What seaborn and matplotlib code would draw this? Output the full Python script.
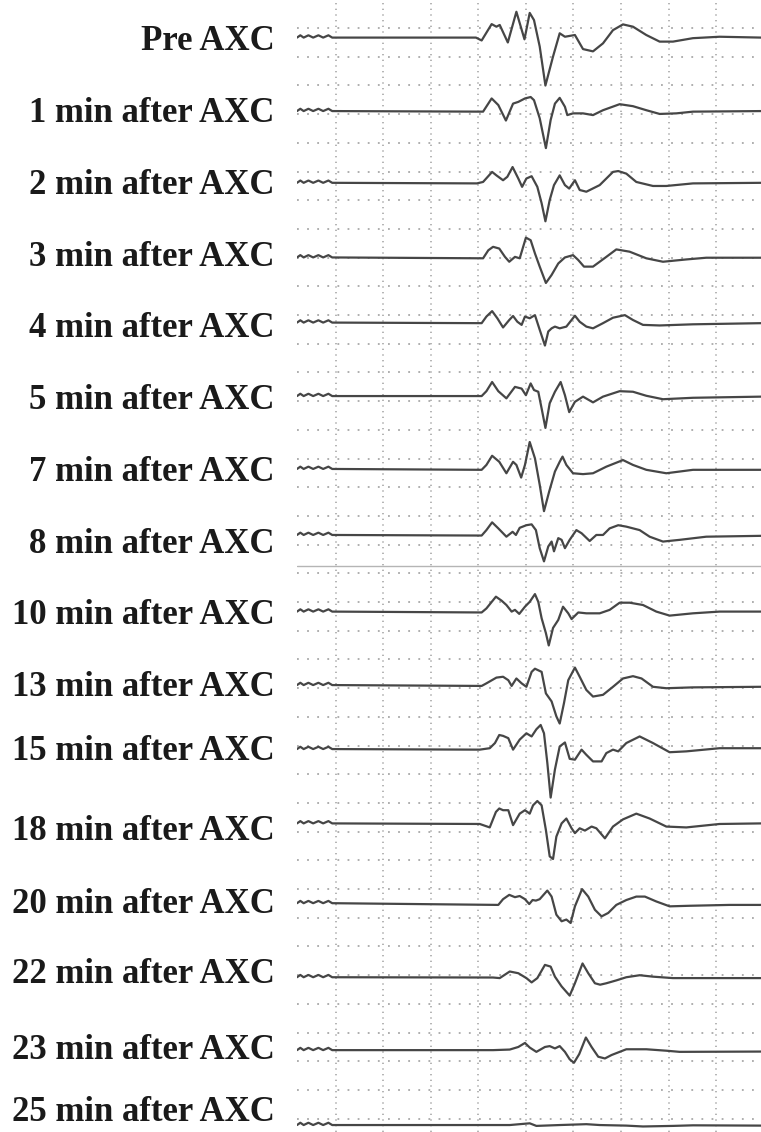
import matplotlib
matplotlib.use("Agg")
import matplotlib.pyplot as plt
import seaborn as sns
import pandas as pd

# trace labels, top to bottom
labels = ["Pre AXC", "1 min after AXC", "2 min after AXC", "3 min after AXC",
          "4 min after AXC", "5 min after AXC", "7 min after AXC", "8 min after AXC",
          "10 min after AXC", "13 min after AXC", "15 min after AXC", "18 min after AXC",
          "20 min after AXC", "22 min after AXC", "23 min after AXC", "25 min after AXC"]

# calibration ripple at the start of every strip (time in grid divisions, amplitude in divisions)
calib_t = [0.19, 0.26, 0.33, 0.43, 0.53, 0.64, 0.74, 0.85, 0.93]
calib_v = [0.0, 0.08, 0.0, 0.08, 0.0, 0.08, 0.0, 0.08, 0.0]

t_pre = [3.95, 4.07, 4.28, 4.38, 4.45, 4.62, 4.80, 4.97, 5.08, 5.17, 5.29, 5.41, 5.57, 5.71, 5.82, 6.03,
         6.20, 6.41, 6.62, 6.83, 7.04, 7.25, 7.53, 7.81, 8.09, 8.51, 9.07, 9.95]
v_pre = [0.0, -0.10, 0.47, 0.38, 0.44, -0.17, 0.90, -0.06, 0.86, 0.61, -0.31, -1.67, -0.66, 0.15, 0.03, 0.09,
         -0.40, -0.48, -0.20, 0.26, 0.46, 0.38, 0.09, -0.14, -0.14, -0.02, 0.03, 0.0]

t_01 = [4.10, 4.28, 4.42, 4.58, 4.73, 4.84, 4.98, 5.10, 5.17, 5.29, 5.42, 5.52, 5.61, 5.71, 5.82, 5.87,
        5.99, 6.20, 6.41, 6.62, 6.97, 7.25, 7.53, 7.81, 8.16, 8.51, 9.95]
v_01 = [-0.02, 0.44, 0.21, -0.33, 0.26, 0.32, 0.44, 0.49, 0.38, -0.25, -1.29, -0.31, 0.26, 0.46, 0.15, -0.14,
        -0.08, -0.08, -0.14, 0.03, 0.24, 0.17, 0.03, -0.10, -0.08, -0.02, 0.0]

t_02 = [3.97, 4.10, 4.29, 4.38, 4.52, 4.61, 4.72, 4.84, 4.92, 5.01, 5.12, 5.24, 5.33, 5.41, 5.50, 5.59,
        5.71, 5.82, 5.91, 6.03, 6.13, 6.27, 6.55, 6.83, 6.94, 7.11, 7.32, 7.67, 7.95, 8.51, 9.95]
v_02 = [-0.02, 0.03, 0.38, 0.26, 0.09, 0.21, 0.55, 0.15, -0.14, 0.15, 0.23, -0.14, -0.71, -1.34, -0.60, -0.08,
        0.26, -0.08, -0.20, 0.09, -0.25, -0.31, -0.08, 0.38, 0.41, 0.32, 0.03, -0.11, -0.11, -0.02, 0.0]

t_03 = [4.10, 4.21, 4.31, 4.44, 4.56, 4.65, 4.77, 4.87, 5.00, 5.10, 5.19, 5.29, 5.42, 5.54, 5.68, 5.82,
        5.99, 6.10, 6.22, 6.41, 6.69, 6.90, 7.18, 7.53, 7.88, 8.37, 8.79, 9.95]
v_03 = [-0.03, 0.25, 0.37, 0.31, 0.02, -0.15, 0.02, -0.03, 0.69, 0.60, 0.14, -0.32, -0.89, -0.61, -0.21, 0.0,
        0.08, -0.09, -0.32, -0.32, 0.02, 0.28, 0.20, -0.03, -0.15, -0.07, -0.01, -0.01]

t_04 = [4.07, 4.17, 4.29, 4.40, 4.52, 4.65, 4.73, 4.82, 4.91, 4.98, 5.08, 5.19, 5.29, 5.40, 5.47, 5.54,
        5.61, 5.71, 5.85, 6.03, 6.13, 6.27, 6.41, 6.62, 6.83, 7.08, 7.25, 7.46, 7.81, 8.51, 9.95]
v_04 = [-0.02, 0.21, 0.40, 0.15, -0.17, 0.09, 0.23, 0.03, -0.08, 0.21, 0.15, 0.26, -0.25, -0.80, -0.31, -0.20,
        -0.14, -0.20, -0.14, 0.24, 0.03, -0.14, -0.20, -0.02, 0.17, 0.26, 0.09, -0.08, -0.10, -0.06, -0.02]

t_05 = [4.07, 4.17, 4.29, 4.42, 4.59, 4.77, 4.91, 5.00, 5.10, 5.17, 5.26, 5.33, 5.41, 5.50, 5.61, 5.73,
        5.82, 5.91, 6.03, 6.20, 6.41, 6.62, 6.97, 7.25, 7.53, 7.88, 8.51, 9.95]
v_05 = [0.0, 0.17, 0.49, 0.17, -0.08, 0.32, 0.26, 0.03, 0.44, 0.21, 0.15, -0.43, -1.11, -0.25, 0.15, 0.49,
        0.03, -0.56, -0.20, -0.02, -0.22, -0.02, 0.17, 0.15, 0.01, -0.11, -0.06, -0.02]

t_07 = [4.07, 4.17, 4.29, 4.44, 4.59, 4.73, 4.80, 4.90, 4.98, 5.08, 5.19, 5.29, 5.38, 5.49, 5.61, 5.71,
        5.77, 5.85, 5.99, 6.20, 6.41, 6.69, 7.04, 7.25, 7.53, 7.95, 8.51, 9.95]
v_07 = [-0.03, 0.14, 0.46, 0.25, -0.15, 0.25, 0.14, -0.30, 0.14, 0.94, 0.37, -0.55, -1.47, -0.78, -0.09, 0.25,
        0.43, 0.14, -0.15, -0.18, -0.15, 0.08, 0.31, 0.14, -0.03, -0.15, -0.03, -0.03]

t_08 = [4.07, 4.17, 4.29, 4.42, 4.59, 4.72, 4.79, 4.87, 5.01, 5.12, 5.21, 5.29, 5.38, 5.47, 5.54, 5.59,
        5.68, 5.75, 5.82, 5.92, 6.06, 6.17, 6.34, 6.48, 6.62, 6.76, 6.94, 7.11, 7.39, 7.60, 7.88, 8.23,
        8.79, 9.95]
v_08 = [-0.02, 0.17, 0.44, 0.23, -0.06, 0.11, 0.0, 0.25, 0.34, 0.37, 0.17, -0.46, -0.92, -0.40, -0.23, -0.57,
        -0.11, -0.17, -0.46, -0.17, 0.17, 0.06, -0.21, 0.0, 0.0, 0.23, 0.34, 0.29, 0.17, -0.06, -0.23, -0.17,
        -0.06, -0.03]

t_10 = [4.07, 4.17, 4.37, 4.49, 4.59, 4.70, 4.77, 4.86, 4.98, 5.08, 5.19, 5.26, 5.33, 5.42, 5.48, 5.57,
        5.68, 5.78, 5.89, 5.96, 6.10, 6.27, 6.55, 6.76, 6.97, 7.18, 7.46, 7.74, 8.02, 8.51, 9.07, 9.95]
v_10 = [-0.03, 0.11, 0.52, 0.38, 0.23, 0.0, 0.06, -0.08, 0.17, 0.34, 0.61, 0.34, -0.23, -0.75, -1.18, -0.57,
        -0.29, 0.17, -0.06, -0.26, -0.03, -0.06, -0.06, 0.06, 0.31, 0.31, 0.23, 0.0, -0.14, -0.06, 0.0, 0.0]

t_13 = [4.07, 4.17, 4.38, 4.52, 4.63, 4.70, 4.80, 4.91, 5.01, 5.12, 5.19, 5.33, 5.42, 5.54, 5.64, 5.71,
        5.80, 5.89, 6.03, 6.13, 6.27, 6.41, 6.62, 6.83, 7.04, 7.25, 7.43, 7.67, 7.95, 8.51, 9.95]
v_13 = [-0.03, 0.06, 0.26, 0.29, 0.17, -0.03, 0.23, 0.06, -0.06, 0.46, 0.57, 0.46, -0.29, -0.57, -1.09, -1.34,
        -0.63, 0.17, 0.61, 0.29, -0.17, -0.40, -0.34, -0.06, 0.23, 0.31, 0.23, -0.06, -0.11, -0.08, -0.06]

t_15 = [4.03, 4.24, 4.35, 4.44, 4.52, 4.63, 4.73, 4.87, 5.01, 5.12, 5.22, 5.31, 5.38, 5.45, 5.52, 5.61,
        5.71, 5.82, 5.92, 6.03, 6.17, 6.27, 6.41, 6.59, 6.69, 6.83, 6.94, 7.11, 7.39, 7.67, 8.02, 8.37,
        9.07, 9.95]
v_15 = [-0.02, 0.03, 0.21, 0.49, 0.46, 0.38, -0.02, 0.33, 0.55, 0.44, 0.69, 0.84, 0.55, -0.48, -1.69, -0.71,
        0.09, 0.23, -0.34, -0.37, -0.02, -0.20, -0.43, -0.43, -0.14, -0.02, -0.08, 0.21, 0.44, 0.21, -0.11, -0.08,
        0.03, 0.03]

t_18 = [4.03, 4.24, 4.37, 4.44, 4.52, 4.63, 4.73, 4.87, 4.98, 5.08, 5.15, 5.24, 5.33, 5.42, 5.50, 5.57,
        5.64, 5.75, 5.85, 5.96, 6.03, 6.13, 6.24, 6.38, 6.48, 6.66, 6.83, 7.04, 7.32, 7.60, 7.95, 8.37,
        9.07, 9.95]
v_18 = [-0.02, -0.14, 0.40, 0.52, 0.46, 0.46, -0.06, 0.34, 0.46, 0.34, 0.63, 0.78, 0.63, -0.23, -1.15, -1.24,
        -0.46, 0.0, 0.17, -0.17, -0.34, -0.17, -0.25, -0.11, -0.17, -0.52, -0.11, 0.14, 0.34, 0.17, -0.11, -0.14,
        -0.02, 0.0]

t_20 = [4.42, 4.52, 4.65, 4.77, 4.87, 4.98, 5.07, 5.14, 5.21, 5.29, 5.45, 5.54, 5.64, 5.75, 5.85, 5.94,
        6.03, 6.18, 6.31, 6.45, 6.59, 6.73, 6.90, 7.11, 7.32, 7.50, 7.74, 8.02, 8.44, 9.28, 9.95]
v_20 = [-0.06, 0.14, 0.29, 0.21, 0.25, 0.14, -0.03, 0.11, 0.09, 0.14, 0.44, 0.23, -0.40, -0.63, -0.57, -0.69,
        -0.11, 0.49, 0.23, -0.23, -0.46, -0.34, -0.06, 0.11, 0.23, 0.23, 0.06, -0.11, -0.09, -0.06, -0.06]

t_22 = [4.31, 4.45, 4.66, 4.84, 5.01, 5.12, 5.24, 5.40, 5.52, 5.61, 5.75, 5.92, 6.03, 6.19, 6.31, 6.45,
        6.56, 6.69, 6.90, 7.11, 7.39, 7.67, 8.09, 9.95]
v_22 = [-0.01, -0.03, 0.20, 0.14, -0.03, -0.18, -0.03, 0.43, 0.37, 0.02, -0.32, -0.64, -0.21, 0.48, 0.14, -0.21,
        -0.26, -0.21, -0.11, 0.0, 0.07, 0.02, -0.03, -0.03]

t_23 = [4.31, 4.66, 4.84, 4.98, 5.08, 5.22, 5.40, 5.50, 5.61, 5.71, 5.82, 5.92, 6.01, 6.12, 6.26, 6.38,
        6.52, 6.66, 6.80, 6.97, 7.11, 7.53, 7.95, 8.23, 9.95]
v_23 = [0.0, 0.02, 0.11, 0.25, 0.09, -0.06, 0.11, 0.14, 0.06, 0.14, -0.06, -0.32, -0.44, -0.14, 0.44, 0.11,
        -0.23, -0.29, -0.17, -0.06, 0.03, 0.03, -0.02, -0.06, -0.05]

t_25 = [4.66, 5.08, 5.22, 5.71, 6.27, 6.55, 7.11, 7.46, 8.09, 8.51, 9.95]
v_25 = [0.0, 0.06, -0.03, 0.0, 0.03, 0.0, -0.02, -0.05, -0.03, -0.01, -0.02]

traces = [(t_pre, v_pre), (t_01, v_01), (t_02, v_02), (t_03, v_03), (t_04, v_04), (t_05, v_05),
          (t_07, v_07), (t_08, v_08), (t_10, v_10), (t_13, v_13), (t_15, v_15), (t_18, v_18),
          (t_20, v_20), (t_22, v_22), (t_23, v_23), (t_25, v_25)]

# layout: baseline row of each strip and row of its label (grid rows from the top of the page)
row_pos = [1.31, 3.87, 6.37, 8.97, 11.24, 13.80, 16.34, 18.64,
           21.31, 23.87, 26.10, 28.69, 31.47, 34.05, 36.59, 39.20]
label_pos = [1.32, 3.80, 6.34, 8.85, 11.32, 13.83, 16.31, 18.85,
             21.32, 23.83, 26.03, 28.85, 31.36, 33.83, 36.48, 38.62]

sns.set_style("white")
fig = plt.figure(figsize=(7.61, 11.32), dpi=100)
ax = fig.add_axes([297 / 761, 0, 464 / 761, 1])

grid_c = "#a8a8a8"
for gx in range(1, 10):
    ax.axvline(gx, color=grid_c, lw=1.2, dashes=(0.8, 2.6), zorder=0)
k = 0.976
while k < 39.5:
    ax.axhline(k, color=grid_c, lw=1.3, dashes=(1.0, 4.6), zorder=0)
    k += 1.0
# strip joint left by the paste-up
ax.axhline(19.72, color="#b5b5b5", lw=1.0, zorder=0)

for (t, v), base in zip(traces, row_pos):
    df = pd.DataFrame({"t": calib_t + t, "v": calib_v + v})
    df["y"] = base - df["v"]
    sns.lineplot(data=df, x="t", y="y", ax=ax, sort=False, estimator=None,
                 color="#464646", lw=1.6, solid_joinstyle="round", solid_capstyle="round")

ax.set_xlim(0.19, 9.94)
ax.set_ylim(1132 / 28.7, 0)
ax.set_xticks([])
ax.set_yticks(label_pos)
ax.set_yticklabels(labels, fontfamily="Liberation Serif", fontweight="bold",
                   fontsize=25, color="#1a1a1a")
ax.tick_params(axis="y", length=0, pad=16)
ax.set_xlabel("")
ax.set_ylabel("")
for s in ax.spines.values():
    s.set_visible(False)

fig.savefig("out.png", dpi=100)
